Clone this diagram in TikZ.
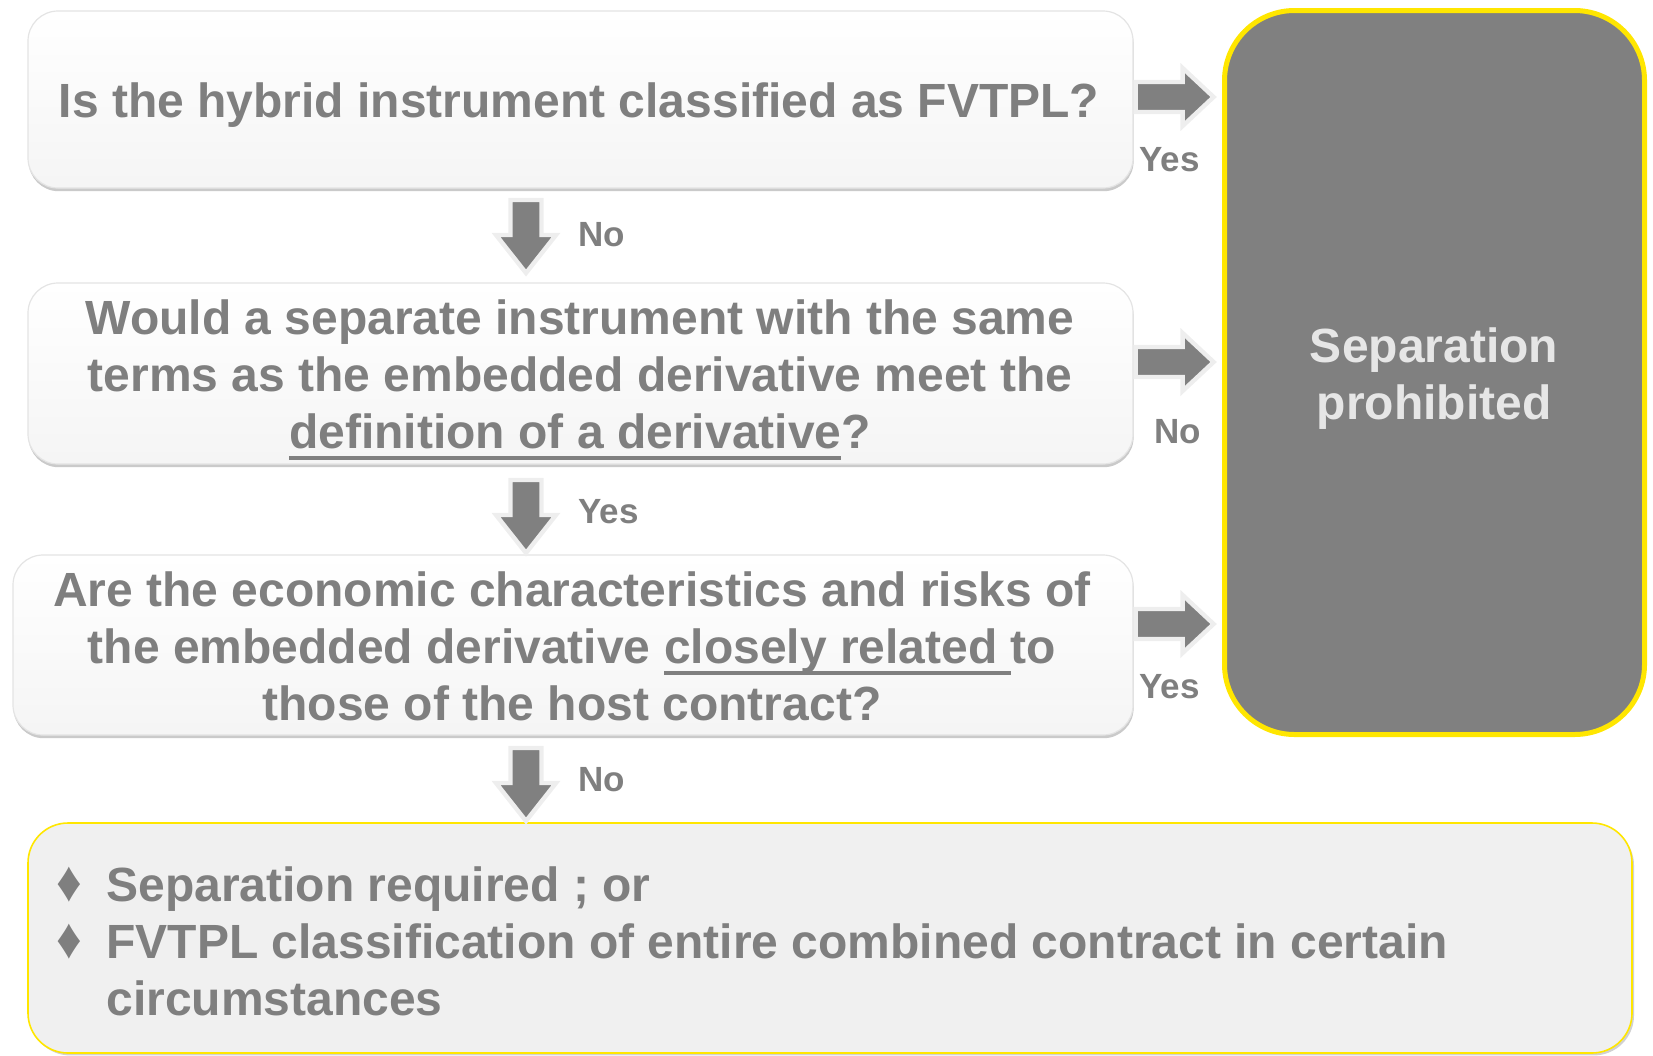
\documentclass[tikz,border=0pt]{standalone}
\usepackage{fontspec}
\setmainfont{Liberation Sans}
\usetikzlibrary{shadows}
\definecolor{txtgray}{HTML}{7F7F7F}
\definecolor{boxgray}{HTML}{808080}
\definecolor{eyyellow}{HTML}{FFE600}
\definecolor{lightline}{HTML}{E4E4E4}
\definecolor{glow}{HTML}{EEEEEE}
\definecolor{paletxt}{HTML}{E6E6E6}
\newcommand\myul[1]{\setbox0\hbox{#1}\rlap{\rule[-6pt]{\wd0}{2pt}}\box0}
\tikzset{
  qbox/.style={draw=lightline, line width=0.6pt, rounded corners=15pt,
    top color=white, bottom color=black!4, inner sep=0pt,
    drop shadow={shadow xshift=0.3pt, shadow yshift=-1.6pt, opacity=0.35, fill=black!60}},
  qtext/.style={text=txtgray, font=\bfseries\fontsize{24}{28.5}\selectfont, align=center, inner sep=0pt},
  lbl/.style={text=txtgray, font=\bfseries\fontsize{17.5}{20}\selectfont, inner sep=0pt, anchor=west},
  blockarrow/.style={fill=boxgray, draw=glow, line width=2.2pt, line join=miter},
  rarr/.pic={\path[blockarrow] (0,-15) -- (47,-15) -- (47,-29) -- (78,0) -- (47,29) -- (47,15) -- (0,15) -- cycle;},
  darr/.pic={\path[blockarrow] (-15.5,0) -- (-15.5,35) -- (-30,35) -- (0,73) -- (30,35) -- (15.5,35) -- (15.5,0) -- cycle;},
}
\begin{document}
\begin{tikzpicture}[x=0.5pt, y=-0.5pt]
\useasboundingbox (0,0) rectangle (1653,1055);
% question boxes
\node[qbox, minimum width=552.5pt, minimum height=88.5pt] (q1) at (580.5,99.5) {};
\node[qbox, minimum width=552.5pt, minimum height=90.5pt] (q2) at (580.5,373.5) {};
\node[qbox, minimum width=560pt, minimum height=90pt] (q3) at (573,645) {};
\node[qtext] (t1) at (579,105) {Is the hybrid instrument classified as FVTPL?};
\node[qtext] (t2) at (580,380) {Would a separate instrument with the same\\terms as the embedded derivative meet the\\\myul{definition of a derivative}?};
\node[qtext] (t3) at (572,646) {Are the economic characteristics and risks of\\the embedded derivative \myul{closely related }to\\those of the host contract?};
% right box
\node[draw=eyyellow, line width=2.5pt, fill=boxgray, rounded corners=35pt,
  minimum width=210pt, minimum height=362pt, inner sep=0pt] (sp) at (1434.5,372.5) {};
\node[qtext, text=paletxt] (spt) at (1434,379) {Separation\\prohibited};
% bottom box
\node[draw=eyyellow, line width=0.8pt, fill=black!6, rounded corners=20pt,
  minimum width=802pt, minimum height=115pt, inner sep=0pt,
  drop shadow={shadow xshift=1pt, shadow yshift=-1.2pt, opacity=0.3, fill=black!60}] (res) at (830,938) {};
\node[qtext, align=left, anchor=west] (rest) at (56,941)
  {\makebox[25pt][l]{\scalebox{1.05}[1.2]{♦}}Separation required ; or\\
   \makebox[25pt][l]{\scalebox{1.05}[1.2]{♦}}FVTPL classification of entire combined contract in certain\\
   \hspace*{25pt}circumstances};
% right block arrows
\coordinate (r1) at (q1.east |- 0,97);
\coordinate (r2) at (q2.east |- 0,362);
\coordinate (r3) at (q3.east |- 0,624);
\pic at ([xshift=1pt]r1) {rarr};
\pic at ([xshift=1pt]r2) {rarr};
\pic at ([xshift=1pt]r3) {rarr};
% down block arrows
\coordinate (d1) at (526,200);
\coordinate (d2) at (526,480);
\coordinate (d3) at (526,748);
\pic at (d1) {darr};
\pic at (d2) {darr};
\pic at (d3) {darr};
% labels
\node[lbl] (l1) at (1139,160) {Yes};
\node[lbl] (l2) at (1154,432) {No};
\node[lbl] (l3) at (1139,687) {Yes};
\node[lbl] (l4) at (578,235) {No};
\node[lbl] (l5) at (578,512) {Yes};
\node[lbl] (l6) at (578,780) {No};
\end{tikzpicture}
\end{document}
